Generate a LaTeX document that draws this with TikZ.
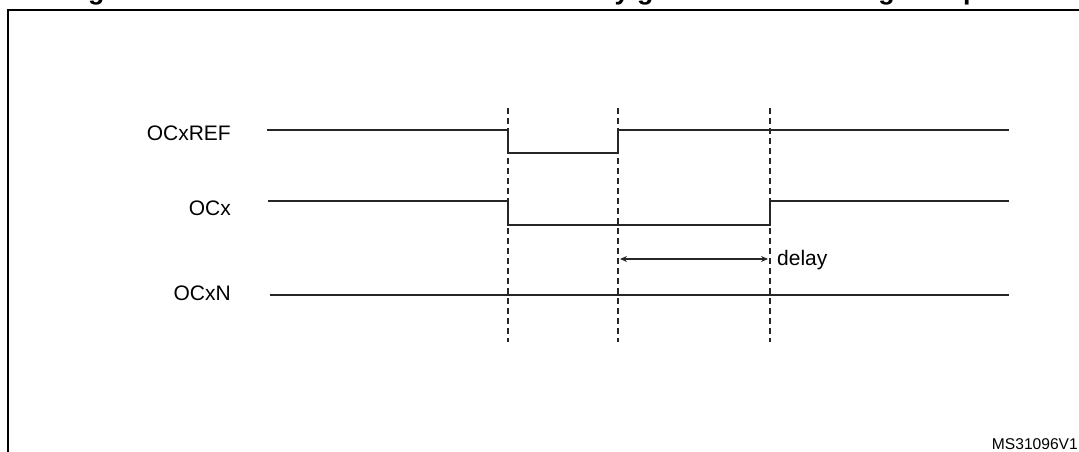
\documentclass[tikz,border=0pt]{standalone}
\usepackage{fontspec}
\setmainfont{Liberation Sans}
\usetikzlibrary{arrows.meta}
\begin{document}
\begin{tikzpicture}[x=1pt,y=-1pt,
  sig/.style={line width=1.5pt,color=black!85},
  frame/.style={line width=2pt,color=black},
  guide/.style={line width=1.2pt,color=black!85,dash pattern=on 6pt off 4pt},
  dim/.style={line width=1.3pt,color=black!85,{Stealth[length=7pt,width=6pt]}-{Stealth[length=7pt,width=6pt]}},
  lbl/.style={inner sep=0pt,font=\fontsize{21}{25}\selectfont},
  ttl/.style={inner sep=0pt,font=\fontsize{26.8}{30}\selectfont\bfseries},
  tag/.style={inner sep=0pt,font=\fontsize{15.6}{18}\selectfont}]
\path[use as bounding box,clip] (0,0) rectangle (1079,452);
\fill[white] (0,0) rectangle (1079,452);
% title (cut off by the top edge)
\node[ttl,anchor=base west] (title) at (64,-0.5) {Figure 123. Dead-time waveforms with delay greater than the negative pulse};
% frame
\draw[frame] (8,460) -- (8,10) -- (1090,10);
% dashed guides
\coordinate (g1t) at (508,108); \coordinate (g1b) at (508,342);
\coordinate (g2t) at (618,108); \coordinate (g2b) at (618,342);
\coordinate (g3t) at (770,108); \coordinate (g3b) at (770,342);
\draw[guide] (g1t) -- (g1b);
\draw[guide] (g2t) -- (g2b);
\draw[guide] (g3t) -- (g3b);
% signals
\draw[sig] (267,130) -- (508,130) -- (508,153) -- (618,153) -- (618,130) -- (1009,130);
\draw[sig] (268,201) -- (508,201) -- (508,225) -- (770,225) -- (770,201) -- (1009,201);
\draw[sig] (270,295) -- (1009,295);
% labels
\node[lbl,anchor=base east] (lref) at (231,140.5) {OCxREF};
\node[lbl,anchor=base east] (locx) at (231,215) {OCx};
\node[lbl,anchor=base east] (locxn) at (231,300) {OCxN};
% delay
\coordinate (da) at (620,259);
\coordinate (db) at (768,259);
\draw[dim] (da) -- (db);
\node[lbl,anchor=base west] (delay) at (777,265) {delay};
% tag
\node[tag,anchor=base east] (ms) at (1078,449) {MS31096V1};
\end{tikzpicture}
\end{document}
